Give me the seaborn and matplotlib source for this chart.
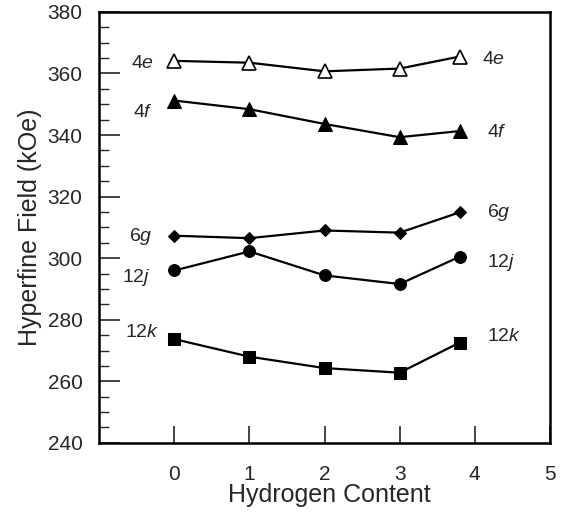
import matplotlib
matplotlib.use("Agg")
import matplotlib.pyplot as plt
from matplotlib.ticker import MultipleLocator, FixedLocator
import numpy as np
import pandas as pd
import seaborn as sns

# Hydrogen content (x) and hyperfine field per crystallographic site (kOe)
hydrogen = [0, 1, 2, 3, 3.8]
field_4e = [364.1, 363.5, 360.7, 361.6, 365.5]
field_4f = [351.2, 348.4, 343.6, 339.3, 341.3]
field_6g = [307.3, 306.5, 309.0, 308.3, 314.9]
field_12j = [296.0, 302.2, 294.4, 291.6, 300.5]
field_12k = [273.7, 268.0, 264.3, 262.8, 272.6]

sites = ["4e", "4f", "6g", "12j", "12k"]
fields = [field_4e, field_4f, field_6g, field_12j, field_12k]

# site label positions (left / right of the curves)
left_label_x = [-0.27, -0.29, -0.29, -0.32, -0.20]
left_label_y = [363.1, 347.2, 306.9, 293.6, 275.7]
right_label_x = [4.10, 4.16, 4.16, 4.16, 4.16]
right_label_y = [364.7, 340.7, 314.7, 298.5, 274.7]

x_ticks = [0, 1, 2, 3, 4, 5]

sns.set_theme(style="ticks")
plt.rcParams["font.family"] = ["Liberation Sans", "DejaVu Sans"]
plt.rcParams["mathtext.fontset"] = "custom"
plt.rcParams["mathtext.rm"] = "Liberation Sans"
plt.rcParams["mathtext.it"] = "Liberation Sans:italic"

df = pd.DataFrame({
    "H": np.tile(hydrogen, len(sites)),
    "field": np.concatenate(fields),
    "site": np.repeat(sites, len(hydrogen)),
})

styles = {
    "4e": dict(marker="^", markersize=9.5, markerfacecolor="white", markeredgecolor="black", markeredgewidth=1.2),
    "4f": dict(marker="^", markersize=9.5, markerfacecolor="black", markeredgecolor="black"),
    "6g": dict(marker="D", markersize=6, markerfacecolor="black", markeredgecolor="black"),
    "12j": dict(marker="o", markersize=8.5, markerfacecolor="black", markeredgecolor="black"),
    "12k": dict(marker="s", markersize=8.5, markerfacecolor="black", markeredgecolor="black"),
}

fig = plt.figure(figsize=(5.64, 5.18), dpi=100)
ax = fig.add_axes([0.176, 0.145, 0.799, 0.832])

for site in sites:
    sub = df[df["site"] == site]
    sns.lineplot(data=sub, x="H", y="field", ax=ax, color="black", linewidth=1.6,
                 legend=False, **styles[site])

def site_label(s):
    num = "".join(c for c in s if c.isdigit())
    let = "".join(c for c in s if c.isalpha())
    return num + r"$\mathit{" + let + "}$"

for s, lx, ly in zip(sites, left_label_x, left_label_y):
    ax.text(lx, ly, site_label(s), ha="right", va="center", fontsize=14)
for s, rx, ry in zip(sites, right_label_x, right_label_y):
    ax.text(rx, ry, site_label(s), ha="left", va="center", fontsize=14)

ax.set_xlim(-1, 5)
ax.set_ylim(240, 380)
ax.xaxis.set_major_locator(FixedLocator(x_ticks))
ax.yaxis.set_major_locator(MultipleLocator(20))
ax.yaxis.set_minor_locator(MultipleLocator(5))
ax.tick_params(axis="x", which="major", direction="in", length=12, width=1.2,
               pad=16, labelsize=15, top=False)
ax.tick_params(axis="y", which="major", direction="in", length=15, width=1.2,
               pad=12, labelsize=15, right=False)
ax.tick_params(axis="y", which="minor", direction="in", length=7, width=1.0, right=False)
ax.tick_params(axis="x", which="minor", bottom=False, top=False)

for sp in ax.spines.values():
    sp.set_visible(True)
    sp.set_linewidth(1.8)
    sp.set_color("black")

ax.set_xlabel("Hydrogen Content", fontsize=18)
ax.set_ylabel("Hyperfine Field (kOe)", fontsize=18)
ax.xaxis.set_label_coords(0.51, -0.137)
ax.xaxis.label.set_va("baseline")
ax.yaxis.set_label_coords(-0.128, 0.5)

fig.savefig("out.png", dpi=100, facecolor="white")
